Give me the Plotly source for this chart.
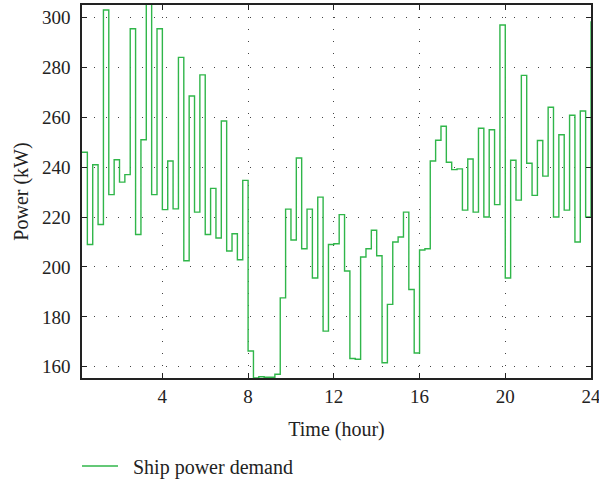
import numpy as np
import plotly.graph_objects as go

# Quarter-hour time stamps (hours) and the ship power demand held over each interval (kW)
time_h = [round(0.25 * k, 2) for k in range(1, 97)]
power_kw = [
    246, 209, 241, 217, 303, 229, 243, 234, 237, 295.5, 213, 251,
    308, 229, 295.5, 223, 242.5, 223.3, 284, 202.5, 268.5, 222, 277, 213,
    231.5, 211.6, 258.5, 206.4, 213.3, 202.9, 234.7, 166.3, 155.5, 156, 155.8, 155.8,
    157, 187.6, 223.2, 210.8, 243.7, 207.3, 223.2, 195.6, 228, 174.3, 209, 209.3,
    221, 198.4, 163.3, 163, 204, 207.3, 214.7, 204.5, 161.6, 185, 210, 212,
    222, 191, 165.5, 206.8, 207.3, 242.5, 250.8, 256.4, 242, 239, 239.3, 222.8,
    243.3, 222, 255.6, 220, 255, 225, 297, 195.6, 242.8, 226.8, 276.8, 241.6,
    228.7, 250.7, 236.4, 264, 220, 253, 222.8, 260.8, 210, 262.5, 220, 298.5,
]
x_ticks = [4, 8, 12, 16, 20, 24]
y_ticks = [160, 180, 200, 220, 240, 260, 280, 300]

SERIF = "Liberation Serif"
GREEN = "rgb(48,182,74)"
INK = "#222"
W, H = 599, 481

fig = go.Figure()
fig.add_trace(go.Scatter(
    x=time_h, y=power_kw, mode="lines",
    # non-breaking spaces widen the gap between the legend swatch and its label
    name="\u00a0\u00a0Ship power demand",
    line=dict(shape="hv", color=GREEN, width=1.4),
))

axis_common = dict(
    showline=True, linecolor=INK, linewidth=1.5, mirror="ticks",
    ticks="inside", ticklen=5, tickwidth=1, tickcolor=INK,
    showgrid=True, gridcolor="#444", gridwidth=1, griddash="1px,11px",
    zeroline=False, tickfont=dict(family=SERIF, size=19, color=INK),
    ticklabeloverflow="allow", automargin=False,
)

fig.update_xaxes(
    range=[0.25, 24], tickvals=x_ticks, ticktext=[str(v) for v in x_ticks],
    title=dict(text="Time (hour)", font=dict(family=SERIF, size=20, color=INK), standoff=16),
    **axis_common,
)
fig.update_yaxes(
    range=[155.5, 305], tickvals=y_ticks, ticktext=[str(v) for v in y_ticks],
    title=dict(text="Power (kW)", font=dict(family=SERIF, size=20, color=INK), standoff=8),
    ticklabelstandoff=6,
    **axis_common,
)

fig.update_layout(
    width=W, height=H,
    margin=dict(l=82, r=8, t=5, b=103),
    plot_bgcolor="white", paper_bgcolor="white",
    showlegend=True,
    legend=dict(
        orientation="h",
        xref="container", x=77 / W, xanchor="left",
        yref="container", y=1 - 466 / H, yanchor="middle",
        font=dict(family=SERIF, size=20, color=INK),
        bgcolor="rgba(0,0,0,0)", itemwidth=36,
    ),
)

fig.write_html("out.html")
